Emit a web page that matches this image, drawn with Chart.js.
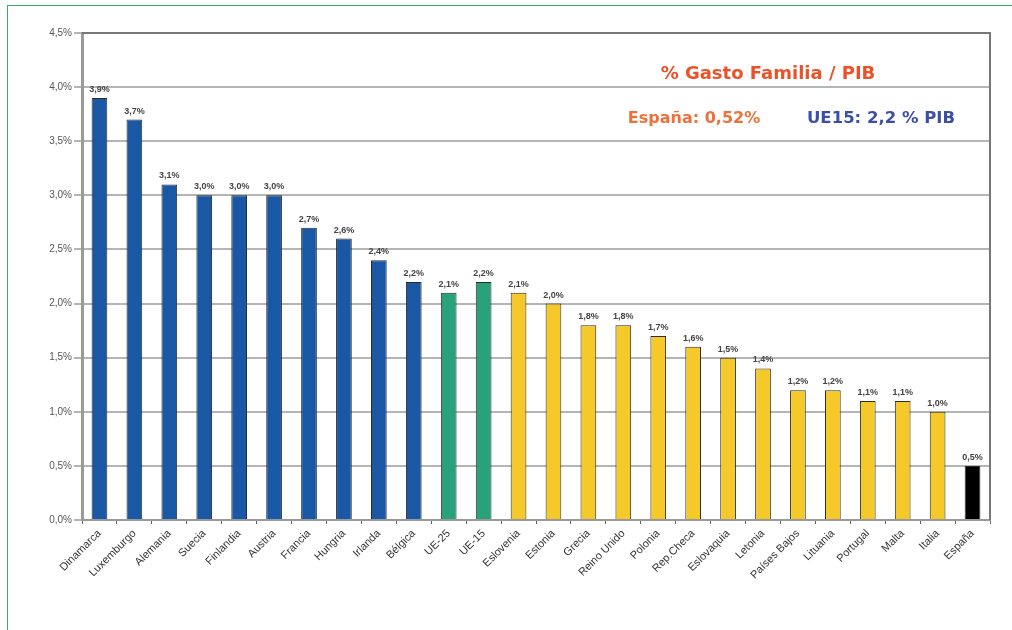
<!DOCTYPE html>
<html>
<head>
<meta charset="utf-8">
<script src="https://cdn.jsdelivr.net/npm/chart.js@4.4.0/dist/chart.umd.min.js"></script>
<style>
  body { margin: 0; background: #fff; overflow: hidden; }
  #frame { position: absolute; left: 7px; top: 5px; width: 1100px; height: 700px; border: 1.5px solid #34b060; box-sizing: border-box; }
  #wrap { position: absolute; left: 0; top: 0; width: 1012px; height: 630px; }
  .note { position: absolute; font-family: "DejaVu Sans", Verdana, sans-serif; font-weight: bold; white-space: nowrap; transform: translate(-50%, -50%); }
</style>
</head>
<body>
<div id="frame"></div>
<div id="wrap"><canvas id="chart" width="1012" height="630"></canvas></div>
<div class="note" style="left:768px; top:72px; font-size:18px; color:#ea5329;">% Gasto Familia / PIB</div>
<div class="note" style="left:694px; top:117px; font-size:16px; color:#f0703a;">España: 0,52%</div>
<div class="note" style="left:881px; top:117px; font-size:16.5px; color:#3a4fa6;">UE15: 2,2 % PIB</div>
<script>
// Datos del gráfico
const paises = ['Dinamarca', 'Luxemburgo', 'Alemania', 'Suecia', 'Finlandia', 'Austria', 'Francia', 'Hungria', 'Irlanda', 'Bélgica',
    'UE-25', 'UE-15', 'Eslovenia', 'Estonia', 'Grecia', 'Reino Unido', 'Polonia', 'Rep.Checa', 'Eslovaquia', 'Letonia',
    'Países Bajos', 'Lituania', 'Portugal', 'Malta', 'Italia', 'España'];
const gasto = [3.9, 3.7, 3.1, 3.0, 3.0, 3.0, 2.7, 2.6, 2.4, 2.2,
    2.1, 2.2, 2.1, 2.0, 1.8, 1.8, 1.7, 1.6, 1.5, 1.4,
    1.2, 1.2, 1.1, 1.1, 1.0, 0.5];
const grupos = ['alto', 'alto', 'alto', 'alto', 'alto', 'alto', 'alto', 'alto', 'alto', 'alto',
    'ue', 'ue', 'bajo', 'bajo', 'bajo', 'bajo', 'bajo', 'bajo', 'bajo', 'bajo',
    'bajo', 'bajo', 'bajo', 'bajo', 'bajo', 'esp'];
const yTicks = [0, 0.5, 1.0, 1.5, 2.0, 2.5, 3.0, 3.5, 4.0, 4.5];

const colores = { alto: '#1a58a5', ue: '#29a17a', bajo: '#f6c92b', esp: '#000000' };
const fmt = v => v.toFixed(1).replace('.', ',') + '%';

// Etiquetas de valor encima de cada barra + borde superior/derecho del área
const etiquetas = {
    id: 'etiquetas',
    afterDatasetsDraw(chart) {
        const ctx = chart.ctx;
        const meta = chart.getDatasetMeta(0);
        ctx.save();
        ctx.font = 'bold 9px "Liberation Sans", Arial, sans-serif';
        ctx.fillStyle = '#444';
        ctx.textAlign = 'center';
        ctx.textBaseline = 'bottom';
        meta.data.forEach((bar, i) => {
            ctx.fillText(fmt(gasto[i]), bar.x, bar.y - 4);
        });
        const a = chart.chartArea;
        ctx.strokeStyle = '#777';
        ctx.lineWidth = 2;
        ctx.beginPath();
        ctx.moveTo(a.left, a.top);
        ctx.lineTo(a.right, a.top);
        ctx.lineTo(a.right, a.bottom);
        ctx.stroke();
        ctx.restore();
    }
};

new Chart(document.getElementById('chart').getContext('2d'), {
    type: 'bar',
    data: {
        labels: paises,
        datasets: [{
            data: gasto,
            backgroundColor: grupos.map(g => colores[g]),
            borderColor: '#2b2b2b',
            borderWidth: 1,
            categoryPercentage: 1,
            barPercentage: 0.45
        }]
    },
    options: {
        responsive: false,
        animation: false,
        layout: { padding: { left: 0, top: 33, right: 22, bottom: 0 } },
        plugins: { legend: { display: false }, tooltip: { enabled: false } },
        scales: {
            x: {
                grid: { display: true, drawOnChartArea: false, drawTicks: true, tickLength: 4, offset: true, color: '#666' },
                border: { color: '#999', width: 2 },
                ticks: {
                    minRotation: 45, maxRotation: 45, autoSkip: false,
                    font: { family: '"Liberation Sans", Arial, sans-serif', size: 11 },
                    color: '#333', padding: 3
                },
                afterFit: s => { s.height = 110; }
            },
            y: {
                min: 0, max: 4.5,
                afterBuildTicks: s => { s.ticks = yTicks.map(v => ({ value: v })); },
                grid: { color: '#b5b5b5', lineWidth: 2, tickLength: 8, drawTicks: true },
                border: { color: '#9a9a9a', width: 3 },
                ticks: {
                    callback: v => fmt(v),
                    font: { family: '"Liberation Sans", Arial, sans-serif', size: 10 },
                    color: '#555', padding: 2
                },
                afterFit: s => { s.width = 82; }
            }
        }
    },
    plugins: [etiquetas]
});
</script>
</body>
</html>
